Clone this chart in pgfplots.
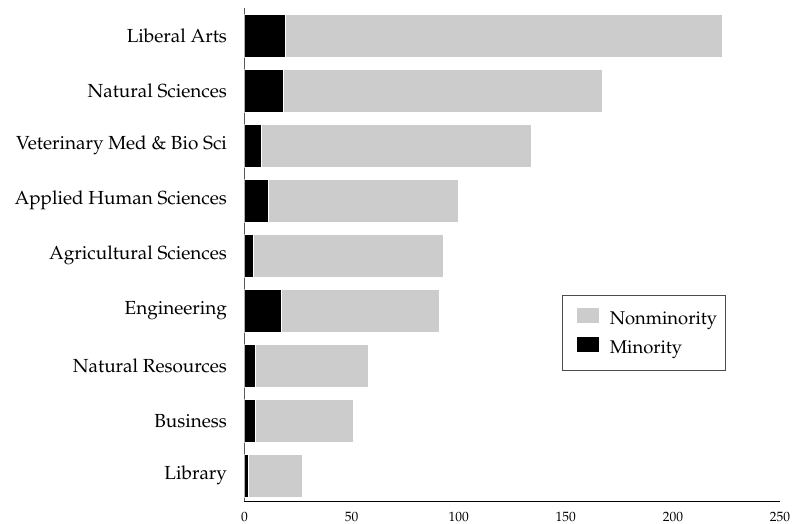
\documentclass[border=0pt]{standalone}
\usepackage[T1]{fontenc}
\usepackage{mathpazo}
\usepackage{pgfplots}
\usepackage{pgfplotstable}
\pgfplotsset{compat=1.18}
\definecolor{nonmin}{HTML}{CCCCCC}

% y: 0 = Library (bottom) ... 8 = Liberal Arts (top)
\pgfplotstableread{
y minority nonminority
0 2  25
1 5  46
2 5  53
3 17 74
4 4  89
5 11 89
6 8  126
7 18 149
8 19 204
}\colleges

\begin{document}
\begin{tikzpicture}
\begin{axis}[
    xbar stacked,
    scale only axis,
    width=535.5bp, height=493bp,
    xmin=0, xmax=250,
    ymin=-0.46, ymax=8.5,
    bar width=0.78,
    axis x line*=bottom,
    axis y line*=left,
    x axis line style={-, black, line width=0.6bp},
    y axis line style={-, black!65, line width=0.8bp},
    xtick={0,50,...,250},
    ytick={0,...,8},
    yticklabels={Library, Business, Natural Resources, Engineering,
        Agricultural Sciences, Applied Human Sciences,
        Veterinary Med \& Bio Sci, Natural Sciences, Liberal Arts},
    major tick length=0pt,
    yticklabel style={font=\fontsize{19}{21}\selectfont, xshift=-14bp},
    xticklabel style={font=\fontsize{13.5}{15}\selectfont, yshift=-7.5bp},
    legend style={at={(0.593,0.418)}, anchor=north west,
        draw=black!70, line width=0.8bp,
        font=\fontsize{18.5}{20}\selectfont,
        inner xsep=8bp, inner ysep=12.5bp, row sep=9bp, column sep=11bp,
        nodes={inner sep=0pt, text height=13bp, text depth=4bp}},
    legend cell align=left,
    reverse legend,
    legend image code/.code={
        \path (0bp,0bp);
        \fill[#1, draw=none] (6bp,-3bp) rectangle (28bp,12bp);
    },
]
\addplot[fill=black, draw=white, line width=0.6bp]
    table[x=minority, y=y] {\colleges};
\addplot[fill=nonmin, draw=white, line width=0.6bp]
    table[x=nonminority, y=y] {\colleges};
\legend{Minority, Nonminority}
\end{axis}
\path (current axis.south west) ++(-244.5bp,-23bp) coordinate (bl);
\path (current axis.north east) ++(14bp,8bp) coordinate (tr);
\pgfresetboundingbox
\path[use as bounding box] (bl) rectangle (tr);
\end{tikzpicture}
\end{document}
